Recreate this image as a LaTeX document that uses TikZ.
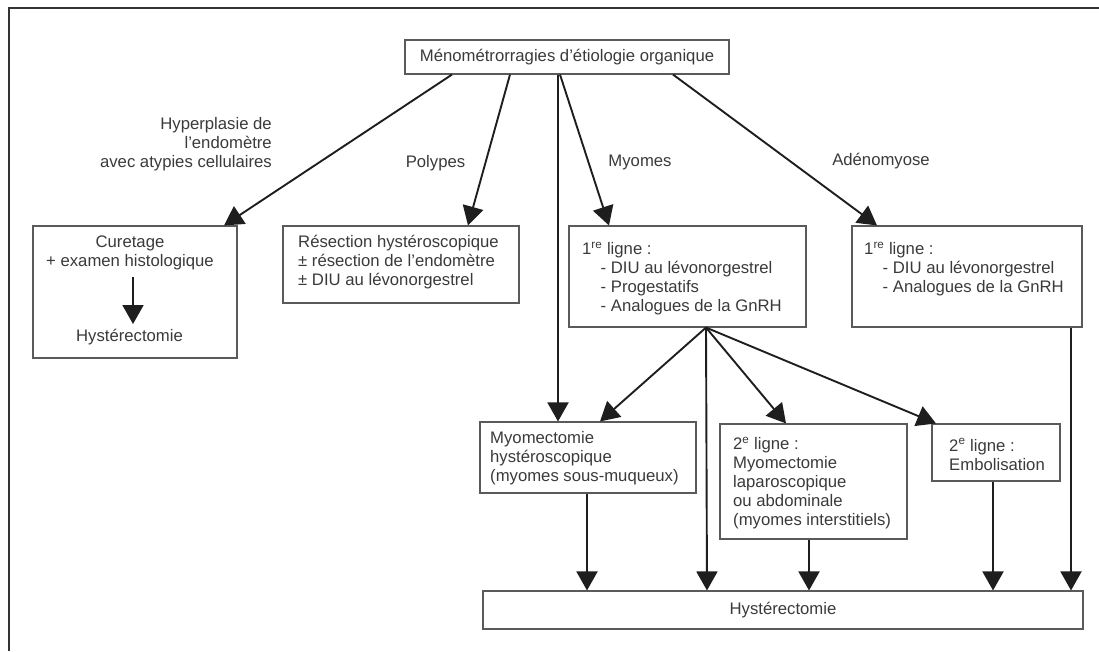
\documentclass[tikz,border=0pt]{standalone}
\usepackage{fontspec}
\setmainfont{Liberation Sans}
\usetikzlibrary{arrows.meta}
\definecolor{txt}{HTML}{3A3A3A}
\definecolor{boxc}{HTML}{5A5A5A}
\definecolor{arrc}{HTML}{1E1E1E}
\definecolor{framec}{HTML}{333333}
\begin{document}
\begin{tikzpicture}[x=1pt,y=-1pt,
  lbl/.style={text=txt,inner sep=0pt,font=\fontsize{16.7}{19}\selectfont},
  box/.style={lbl,draw=boxc,line width=1.1pt},
  arr/.style={draw=arrc,line width=1.9pt,-{Triangle[length=19pt,width=21pt]}},
  framestyle/.style={draw=framec,line width=1.5pt}]
\useasboundingbox (0,0) rectangle (1099,651);
% frame (cropped: only top and left sides visible)
\coordinate (fbl) at (9,651);
\coordinate (ftl) at (9,8);
\coordinate (ftr) at (1099,8);
\draw[framestyle] (fbl) -- (ftl) -- (ftr);

% boxes
\node[box,minimum width=324pt,minimum height=34pt] (top) at (567,57) {Ménométrorragies d’étiologie organique};
\node[box,minimum width=204pt,minimum height=132pt] (cur) at (135,292) {};
\node[box,minimum width=236pt,minimum height=77pt] (res) at (401,264.5) {};
\node[box,minimum width=237pt,minimum height=101pt] (myo) at (687.5,276.5) {};
\node[box,minimum width=230pt,minimum height=101pt] (ade) at (967,276.5) {};
\node[box,minimum width=216pt,minimum height=71pt] (mhy) at (588,457.5) {};
\node[box,minimum width=187pt,minimum height=115pt] (mlap) at (813.5,481.5) {};
\node[box,minimum width=128pt,minimum height=57pt] (embo) at (996,452.5) {};
\node[box,minimum width=600pt,minimum height=38pt] (hyst) at (783,610) {Hystérectomie};

% texts inside boxes
\node[lbl,align=center] (curtxt) at (130,252.5) {Curetage\\+ examen histologique};
\node[lbl] (curhyst) at (129.5,337) {Hystérectomie};
\node[lbl,align=left,anchor=west] (restxt) at (298,262) {Résection hystéroscopique\\± résection de l’endomètre\\± DIU au lévonorgestrel};
\node[lbl,align=left,anchor=west] (myotxt) at (582,278.5) {1\textsuperscript{re} ligne :\\\hspace*{18.5pt}- DIU au lévonorgestrel\\\hspace*{18.5pt}- Progestatifs\\\hspace*{18.5pt}- Analogues de la GnRH};
\node[lbl,align=left,anchor=west] (adetxt) at (864,269) {1\textsuperscript{re} ligne :\\\hspace*{18.5pt}- DIU au lévonorgestrel\\\hspace*{18.5pt}- Analogues de la GnRH};
\node[lbl,align=left,anchor=west] (mhytxt) at (490,458) {Myomectomie\\hystéroscopique\\(myomes sous-muqueux)};
\node[lbl,align=left,anchor=west] (mlaptxt) at (733,483) {2\textsuperscript{e} ligne :\\Myomectomie\\laparoscopique\\ou abdominale\\(myomes interstitiels)};
\node[lbl,align=left,anchor=west] (embotxt) at (949,454.5) {2\textsuperscript{e} ligne :\\Embolisation};

% branch labels
\node[lbl,align=right,anchor=east] (lhyp) at (272,144.5) {Hyperplasie de\\l’endomètre\\avec atypies cellulaires};
\node[lbl] (lpol) at (435.5,163) {Polypes};
\node[lbl] (lmyo) at (640,162) {Myomes};
\node[lbl] (lade) at (881,161) {Adénomyose};

% connectors from the top box
\draw[arr] ([xshift=-115pt]top.south) -- ([xshift=89pt]cur.north);
\draw[arr] ([xshift=-57pt]top.south) -- ([xshift=67pt]res.north);
\draw[arr] ([xshift=-9pt]top.south) -- ([xshift=-30pt]mhy.north);
\draw[arr] ([xshift=-7pt]top.south) -- ([xshift=-78.5pt]myo.north);
\draw[arr] ([xshift=106pt]top.south) -- ([xshift=-90pt]ade.north);

% inner arrow of the curetage box
\coordinate (curA) at (133,277);
\coordinate (curB) at (133,324);
\draw[arr] (curA) -- (curB);

% fan from the myomes box
\coordinate (fan) at ([xshift=18.5pt]myo.south);
\draw[arr] (fan) -- ([xshift=12pt]mhy.north);
\draw[arr] (fan) -- ([xshift=-76pt]hyst.north);
\draw[arr] (fan) -- ([xshift=-27.5pt]mlap.north);
\draw[arr] (fan) -- ([xshift=-60pt]embo.north);

% arrows down to the bottom box
\draw[arr] ([xshift=-1pt]mhy.south) -- ([xshift=-196pt]hyst.north);
\draw[arr] ([xshift=-4.5pt]mlap.south) -- ([xshift=26pt]hyst.north);
\draw[arr] ([xshift=-3pt]embo.south) -- ([xshift=210pt]hyst.north);
\draw[arr] ([xshift=104pt]ade.south) -- ([xshift=288pt]hyst.north);
\end{tikzpicture}
\end{document}
